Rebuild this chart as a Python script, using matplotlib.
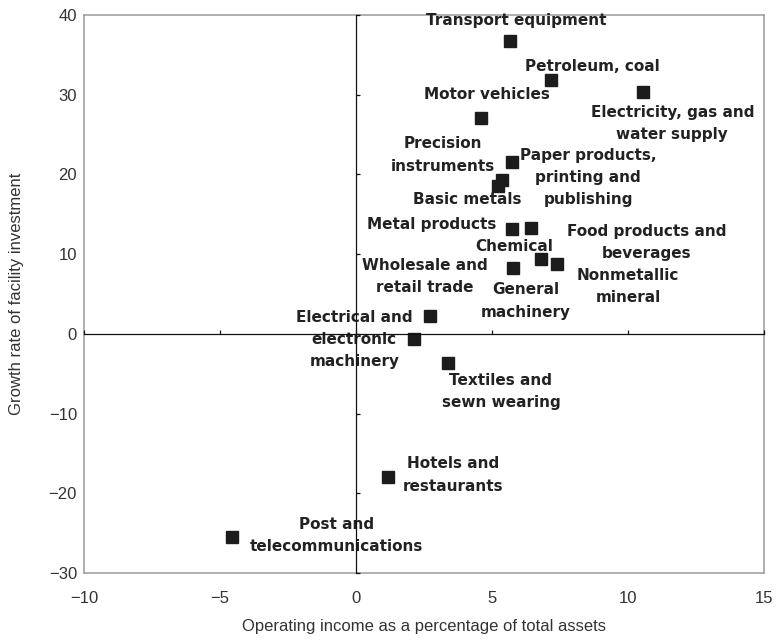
'''
Operating income vs growth of facility investment, by industry
'''
import matplotlib
matplotlib.use('Agg')
import matplotlib.pyplot as plt

industries = [
    'Transport equipment', 'Petroleum, coal', 'Electricity, gas and\nwater supply',
    'Motor vehicles', 'Precision\ninstruments', 'Paper products,\nprinting and\npublishing',
    'Basic metals', 'Metal products', 'Food products and\nbeverages', 'Chemical',
    'Nonmetallic\nmineral', 'General\nmachinery', 'Wholesale and\nretail trade',
    'Electrical and\nelectronic\nmachinery', 'Textiles and\nsewn wearing',
    'Hotels and\nrestaurants', 'Post and\ntelecommunications',
]
income = [5.66, 7.17, 10.55, 4.60, 5.36, 5.75, 5.23, 5.75, 6.43, 6.80,
          7.38, 5.76, 2.72, 2.13, 3.37, 1.16, -4.57]
growth = [36.8, 31.85, 30.4, 27.05, 19.24, 21.6, 18.57, 13.2, 13.3, 9.4,
          8.8, 8.2, 2.3, -0.7, -3.6, -18.0, -25.5]

xticks = [-10, -5, 0, 5, 10, 15]
yticks = [-30, -20, -10, 0, 10, 20, 30, 40]

# label offsets from the marker, in pixels (right, down)
offsets_px = [
    (6, -20), (41.5, -13.3), (29.4, 32.2), (5.7, -23.3), (-58.7, -25.4),
    (75.7, 16.1), (-30.8, 14), (-80.3, -4.3), (116, 15), (-27, -12),
    (71.3, 23), (12.8, 32.5), (-5.5, -38.7), (-59.5, 0), (53.3, 28.6),
    (65.1, -2.4), (105, -2),
]

fig = plt.figure(figsize=(7.77, 6.40), dpi=100)
rect = [84 / 777, 1 - 573 / 640, 680 / 777, 558 / 640]

ax = fig.add_axes(rect)
ax.set_xlim(-10, 15)
ax.set_ylim(-30, 40)
ax.set_xticks(xticks)
ax.set_yticks(yticks)
for s in ax.spines.values():
    s.set_color('#9a9a9a')
    s.set_linewidth(1.1)
ax.tick_params(length=0, labelsize=12, labelcolor='#333333')
ax.tick_params(axis='x', pad=13)
ax.tick_params(axis='y', pad=5)
for lab in ax.get_xticklabels() + ax.get_yticklabels():
    lab.set_family('Liberation Sans')

ax.set_xlabel('Operating income as a percentage of total assets',
              fontsize=12, family='Liberation Sans', color='#333333')
ax.set_ylabel('Growth rate of facility investment',
              fontsize=12, family='Liberation Sans', color='#333333')
ax.xaxis.set_label_coords(0.5, -(626 - 573) / 558)
ax.xaxis.label.set_va('center')
ax.yaxis.set_label_coords(-(84 - 17) / 680, 0.5)
ax.yaxis.label.set_va('center')

ax.plot(income, growth, 's', color='#1c1c1c', markersize=8.6, zorder=3)

for name, x, y, (dx, dy) in zip(industries, income, growth, offsets_px):
    ax.annotate(name, (x, y), xytext=(dx * 0.72, -dy * 0.72),
                textcoords='offset points', ha='center', va='center',
                fontsize=11, fontweight='bold', family='DejaVu Sans',
                color='#222222', linespacing=1.6, zorder=4)

# zero lines with small inward ticks, drawn over everything
ax2 = fig.add_axes(rect, facecolor='none')
ax2.set_xlim(-10, 15)
ax2.set_ylim(-30, 40)
ax2.set_xticks(xticks)
ax2.set_yticks(yticks)
ax2.spines['left'].set_position(('data', 0))
ax2.spines['bottom'].set_position(('data', 0))
ax2.spines['top'].set_visible(False)
ax2.spines['right'].set_visible(False)
for side in ['left', 'bottom']:
    ax2.spines[side].set_color('#111111')
    ax2.spines[side].set_linewidth(0.9)
ax2.tick_params(direction='in', length=3, width=0.9, color='#111111',
                labelleft=False, labelbottom=False)

fig.savefig('out.png', dpi=100)
